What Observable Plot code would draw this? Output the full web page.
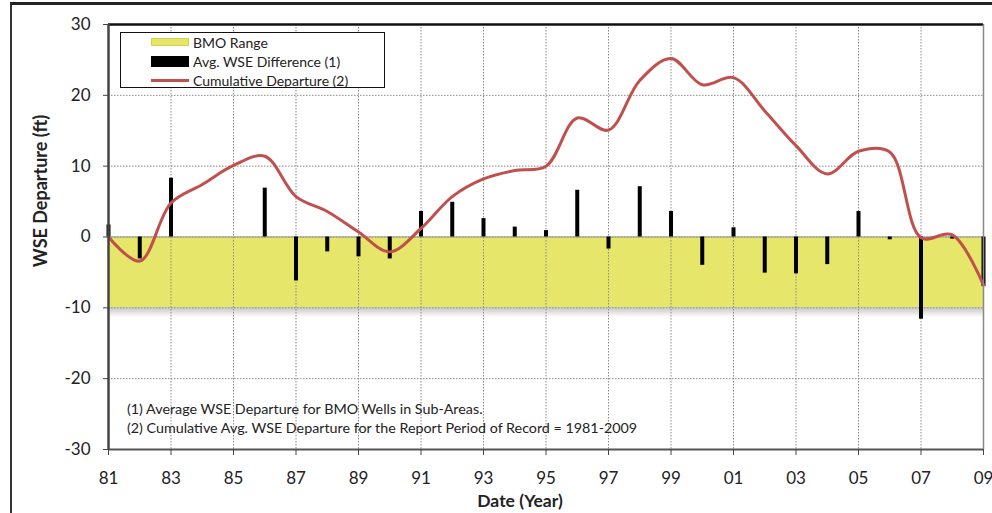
<!DOCTYPE html>
<html><head><meta charset="utf-8">
<script src="https://cdn.jsdelivr.net/npm/d3@7"></script>
<script src="https://cdn.jsdelivr.net/npm/@observablehq/plot@0.6"></script>
<style>
body{margin:0;background:#fff;font-family:Lato,"Open Sans",sans-serif;color:#222}
#wrap{position:relative;width:992px;height:513px;overflow:hidden}
#wrap svg{position:absolute;left:0;top:0}
.frame{position:absolute;left:10px;top:2px;width:1200px;height:700px;border-left:2.5px solid #333;border-top:3px solid #222;pointer-events:none}
.legend{position:absolute;left:120px;top:32px;width:263px;height:54px;border:1.5px solid #111;background:#fff;font-size:14px}
.row{position:absolute;left:0;height:19px;line-height:19px;white-space:nowrap}
.sw{position:absolute;left:30px;width:38px}
.lt{position:absolute;left:72px;top:0}
.note{position:absolute;left:127px;font-size:14.3px;white-space:nowrap}
.ytitle{position:absolute;left:40px;top:191px;font-weight:bold;font-size:18px;transform:translate(-50%,-50%) rotate(-90deg);white-space:nowrap}
.xtitle{position:absolute;left:520px;top:500px;font-weight:bold;font-size:17.5px;transform:translate(-50%,-50%);white-space:nowrap}
</style></head>
<body><div id="wrap"></div>
<script>
const years = [1981,1982,1983,1984,1985,1986,1987,1988,1989,1990,1991,1992,1993,1994,1995,1996,1997,1998,1999,2000,2001,2002,2003,2004,2005,2006,2007,2008,2009];
const avgDiff = [1.7,-3.1,8.3,null,null,6.9,-6.2,-2.1,-2.8,-3.1,3.6,4.9,2.6,1.4,0.9,6.6,-1.7,7.1,3.6,-4.0,1.3,-5.1,-5.2,-3.9,3.6,-0.4,-11.6,-0.3,-7.0];
const cumDeparture = [0,-3.4,4.8,7.4,10.1,11.4,5.7,3.6,0.7,-2.1,1.2,5.7,8.2,9.4,10.0,16.8,15.1,22.1,25.2,21.5,22.5,17.8,12.9,8.9,12.1,12.0,-0.1,0.3,-6.8];
const bmoRange = [-10, 0];
const xDomain = [1981, 2009];
const yDomain = [-30, 30];
const xTicks = [1981,1983,1985,1987,1989,1991,1993,1995,1997,1999,2001,2003,2005,2007,2009];
const yTicks = [-30,-20,-10,0,10,20,30];
const legendLabels = ["BMO Range","Avg. WSE Difference (1)","Cumulative Departure (2)"];
const notes = ["(1) Average WSE Departure for BMO Wells in Sub-Areas.","(2) Cumulative Avg. WSE Departure for the Report Period of Record = 1981-2009"];
const xTitle = "Date (Year)";
const yTitle = "WSE Departure (ft)";

const barData = years.map((y,i)=>({year:y, v:avgDiff[i]}));
const cumData = years.map((y,i)=>({year:y, v:cumDeparture[i]}));

const chart = Plot.plot({
  width: 992, height: 513,
  marginLeft: 108, marginRight: 9, marginTop: 24, marginBottom: 64,
  x: {domain: xDomain},
  y: {domain: yDomain},
  style: {fontFamily: "Lato, 'Open Sans', sans-serif", fontSize: "17px", color: "#222", background: "transparent"},
  marks: [
    Plot.rectY([bmoRange], {x1: () => xDomain[0], x2: () => xDomain[1], y1: d => d[0], y2: d => d[1], fill: "#e6e66a"}),
    Plot.rectY([bmoRange], {x1: () => xDomain[0], x2: () => xDomain[1], y1: d => d[0] - 1.4, y2: d => d[0], fill: "url(#shadowGrad)"}),
    Plot.gridX({ticks: xTicks, stroke: "#8a8a8a", strokeOpacity: 1, strokeDasharray: "1.5,1.5"}),
    Plot.gridY({ticks: yTicks, stroke: "#8a8a8a", strokeOpacity: 1, strokeDasharray: "1.5,1.5"}),
    Plot.ruleY([bmoRange[1]], {stroke: "#999", strokeWidth: 1.2}),
    Plot.ruleX(barData.filter(d => d.v != null), {x: "year", y1: 0, y2: "v", stroke: "#000", strokeWidth: 4}),
    Plot.line(cumData, {x: "year", y: "v", curve: "catmull-rom", stroke: "#c0504d", strokeWidth: 3}),
    Plot.ruleY([yDomain[1]], {stroke: "#111", strokeWidth: 2.5}),
    Plot.ruleY([yDomain[0]], {stroke: "#555", strokeWidth: 2}),
    Plot.ruleX([xDomain[0]], {stroke: "#444", strokeWidth: 2.5}),
    Plot.ruleX([xDomain[1]], {stroke: "#888", strokeWidth: 1.5}),
    Plot.axisY({ticks: yTicks, tickSize: 5, tickPadding: 13, label: null, fontSize: 17, stroke: "#444",
      tickFormat: d => String(d)}),
    Plot.axisX({ticks: xTicks, tickSize: 6, tickPadding: 16, label: null, fontSize: 17, stroke: "#444",
      tickFormat: d => String(d % 100).padStart(2, "0")})
  ]
});

const svg = d3.select(chart);
const defs = svg.insert("defs", ":first-child");
const g = defs.append("linearGradient").attr("id","shadowGrad").attr("x1",0).attr("y1",0).attr("x2",0).attr("y2",1);
g.append("stop").attr("offset","0%").attr("stop-color","#000").attr("stop-opacity",0.22);
g.append("stop").attr("offset","100%").attr("stop-color","#000").attr("stop-opacity",0);

const wrap = document.getElementById("wrap");
wrap.appendChild(chart);

const frame = document.createElement("div"); frame.className = "frame"; wrap.appendChild(frame);

const legend = document.createElement("div"); legend.className = "legend";
const swatches = [
  'top:5px;height:8px;background:#e6e66a;border:1px solid #d8d050;box-sizing:border-box',
  'top:4px;height:11px;background:#000',
  'top:8px;height:3px;background:#c0504d'
];
legendLabels.forEach((t,i)=>{
  const r = document.createElement("div"); r.className = "row"; r.style.top = (i*19) + "px";
  const s = document.createElement("div"); s.className = "sw"; s.style.cssText += swatches[i];
  const l = document.createElement("div"); l.className = "lt"; l.textContent = t;
  r.appendChild(s); r.appendChild(l); legend.appendChild(r);
});
wrap.appendChild(legend);

notes.forEach((t,i)=>{
  const n = document.createElement("div"); n.className = "note"; n.textContent = t;
  n.style.top = (400 + i*19) + "px"; wrap.appendChild(n);
});
const yt = document.createElement("div"); yt.className = "ytitle"; yt.textContent = yTitle; wrap.appendChild(yt);
const xt = document.createElement("div"); xt.className = "xtitle"; xt.textContent = xTitle; wrap.appendChild(xt);
</script>
</body></html>
